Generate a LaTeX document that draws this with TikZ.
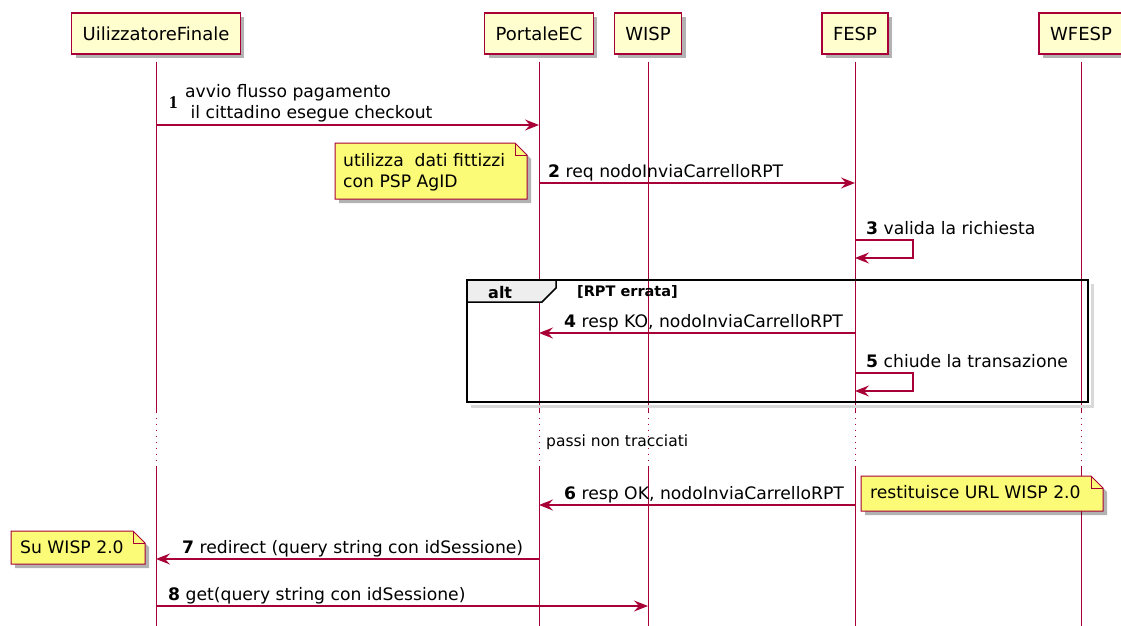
\documentclass[tikz,border=0pt]{standalone}
\usepackage{fontspec}
\setsansfont{DejaVu Sans}
\newfontfamily\numfont{Liberation Serif}
\usetikzlibrary{arrows.meta, positioning, shadows}

\definecolor{umlred}{HTML}{A80036}
\definecolor{partfill}{HTML}{FEFECE}
\definecolor{notefill}{HTML}{FBFB77}
\definecolor{altfill}{HTML}{EEEEEE}

\tikzset{
	actor/.style={draw=umlred, line width=1.5pt, fill=partfill, minimum height=41pt, inner xsep=11pt,
		font=\sffamily\fontsize{18}{21}\selectfont,
		drop shadow={shadow xshift=4pt, shadow yshift=-4pt, opacity=0.3, fill=black}},
	life/.style={umlred, line width=1pt},
	msg/.style={umlred, line width=1.3pt, -{Stealth[length=14pt, width=11pt, inset=5pt]}},
	lbl/.style={inner sep=0pt, font=\sffamily\fontsize{17.2}{21}\selectfont},
	num/.style={inner sep=0pt, font=\numfont\bfseries\fontsize{18}{21}\selectfont},
	note/.style={draw=umlred, line width=1pt, fill=notefill,
		drop shadow={shadow xshift=4pt, shadow yshift=-4pt, opacity=0.3, fill=black}},
	notefold/.style={draw=umlred, line width=1pt},
	frame/.style={draw=black, line width=2pt},
}

\begin{document}
\begin{tikzpicture}[x=1pt, y=-1pt, font=\sffamily]
	\useasboundingbox (0,0) rectangle (1121,626);

	% participants
	\node[actor] (ue) at (156,33.5) {UilizzatoreFinale};
	\node[actor] (ec) at (539,33.5) {PortaleEC};
	\node[actor] (wisp) at (648,33.5) {WISP};
	\node[actor] (fesp) at (855,33.5) {FESP};
	\node[actor] (wfesp) at (1081,33.5) {WFESP};

	% message rows
	\coordinate (m1) at (0,125);
	\coordinate (m2) at (0,183);
	\coordinate (m3) at (0,240);
	\coordinate (m4) at (0,333);
	\coordinate (m5) at (0,373);
	\coordinate (m6) at (0,505);
	\coordinate (m7) at (0,559);
	\coordinate (m8) at (0,606);

	% lifelines, dotted where steps are skipped
	\foreach \p in {ue, ec, wisp, fesp, wfesp} {
		\draw[life] ([yshift=-7pt]\p.south) -- (\p |- 0,412);
		\draw[life, dash pattern=on 1pt off 5pt] (\p |- 0,412) -- (\p |- 0,466);
		\draw[life] (\p |- 0,466) -- (\p |- 0,626);
	}

	% notes
	\filldraw[note] (335,143) -- (515,143) -- (527,155) -- (527,199) -- (335,199) -- cycle;
	\draw[notefold] (515,143) -- (515,155) -- (527,155);
	\node[lbl, align=left, anchor=west] (n1) at (343,172) {utilizza\ \ dati fittizzi\\con PSP AgID};

	\filldraw[note] (861,476) -- (1091,476) -- (1103,488) -- (1103,511) -- (861,511) -- cycle;
	\draw[notefold] (1091,476) -- (1091,488) -- (1103,488);
	\node[lbl, anchor=base west] (n2) at (870,498) {restituisce URL WISP 2.0};

	\filldraw[note] (11,531) -- (133,531) -- (145,543) -- (145,564) -- (11,564) -- cycle;
	\draw[notefold] (133,531) -- (133,543) -- (145,543);
	\node[lbl, anchor=base west] (n3) at (20,553) {Su WISP 2.0};

	% alt fragment
	\draw[black!15, line width=3pt] (1092,284) -- (1092,406) -- (471,406);
	\draw[frame] (467,280) rectangle (1088,402);
	\filldraw[frame, line width=1.5pt, fill=altfill] (467,280) -- (556,280) -- (556,288) -- (542,302) -- (467,302) -- cycle;
	\node[inner sep=0pt, font=\sffamily\bfseries\fontsize{16}{19}\selectfont, anchor=base west] (alt) at (488,298) {alt};
	\node[inner sep=0pt, font=\sffamily\bfseries\fontsize{14.5}{17}\selectfont, anchor=base west] (cond) at (577,296) {[RPT errata]};

	% skipped steps
	\node[inner sep=0pt, font=\sffamily\fontsize{15.5}{18}\selectfont, anchor=base west] (skip) at (546,446) {passi non tracciati};

	% messages
	\draw[msg] (ue |- m1) -- (ec |- m1);
	\node[lbl, align=left, anchor=south west] (t1) at ([xshift=29pt, yshift=3pt]ue |- m1) {avvio flusso pagamento\\\ il cittadino esegue checkout};
	\node[num, left=7pt of t1] (k1) {1};

	\draw[msg] (ec |- m2) -- (fesp |- m2);
	\node[lbl, anchor=base west] (t2) at ([xshift=9pt, yshift=6pt]ec |- m2) {\textbf{2} req nodoInviaCarrelloRPT};

	\draw[msg] (fesp |- m3) -- ++(58,0) -- ++(0,18) -- ++(-58,0);
	\node[lbl, anchor=base west] (t3) at ([xshift=11pt, yshift=6pt]fesp |- m3) {\textbf{3} valida la richiesta};

	\draw[msg] (fesp |- m4) -- (ec |- m4);
	\node[lbl, anchor=base west] (t4) at ([xshift=25pt, yshift=6pt]ec |- m4) {\textbf{4} resp KO, nodoInviaCarrelloRPT};

	\draw[msg] (fesp |- m5) -- ++(58,0) -- ++(0,18) -- ++(-58,0);
	\node[lbl, anchor=base west] (t5) at ([xshift=11pt, yshift=6pt]fesp |- m5) {\textbf{5} chiude la transazione};

	\draw[msg] (fesp |- m6) -- (ec |- m6);
	\node[lbl, anchor=base west] (t6) at ([xshift=25pt, yshift=6pt]ec |- m6) {\textbf{6} resp OK, nodoInviaCarrelloRPT};

	\draw[msg] (ec |- m7) -- (ue |- m7);
	\node[lbl, anchor=base west] (t7) at ([xshift=26pt, yshift=6pt]ue |- m7) {\textbf{7} redirect (query string con idSessione)};

	\draw[msg] (ue |- m8) -- (wisp |- m8);
	\node[lbl, anchor=base west] (t8) at ([xshift=12pt, yshift=6pt]ue |- m8) {\textbf{8} get(query string con idSessione)};

\end{tikzpicture}
\end{document}
